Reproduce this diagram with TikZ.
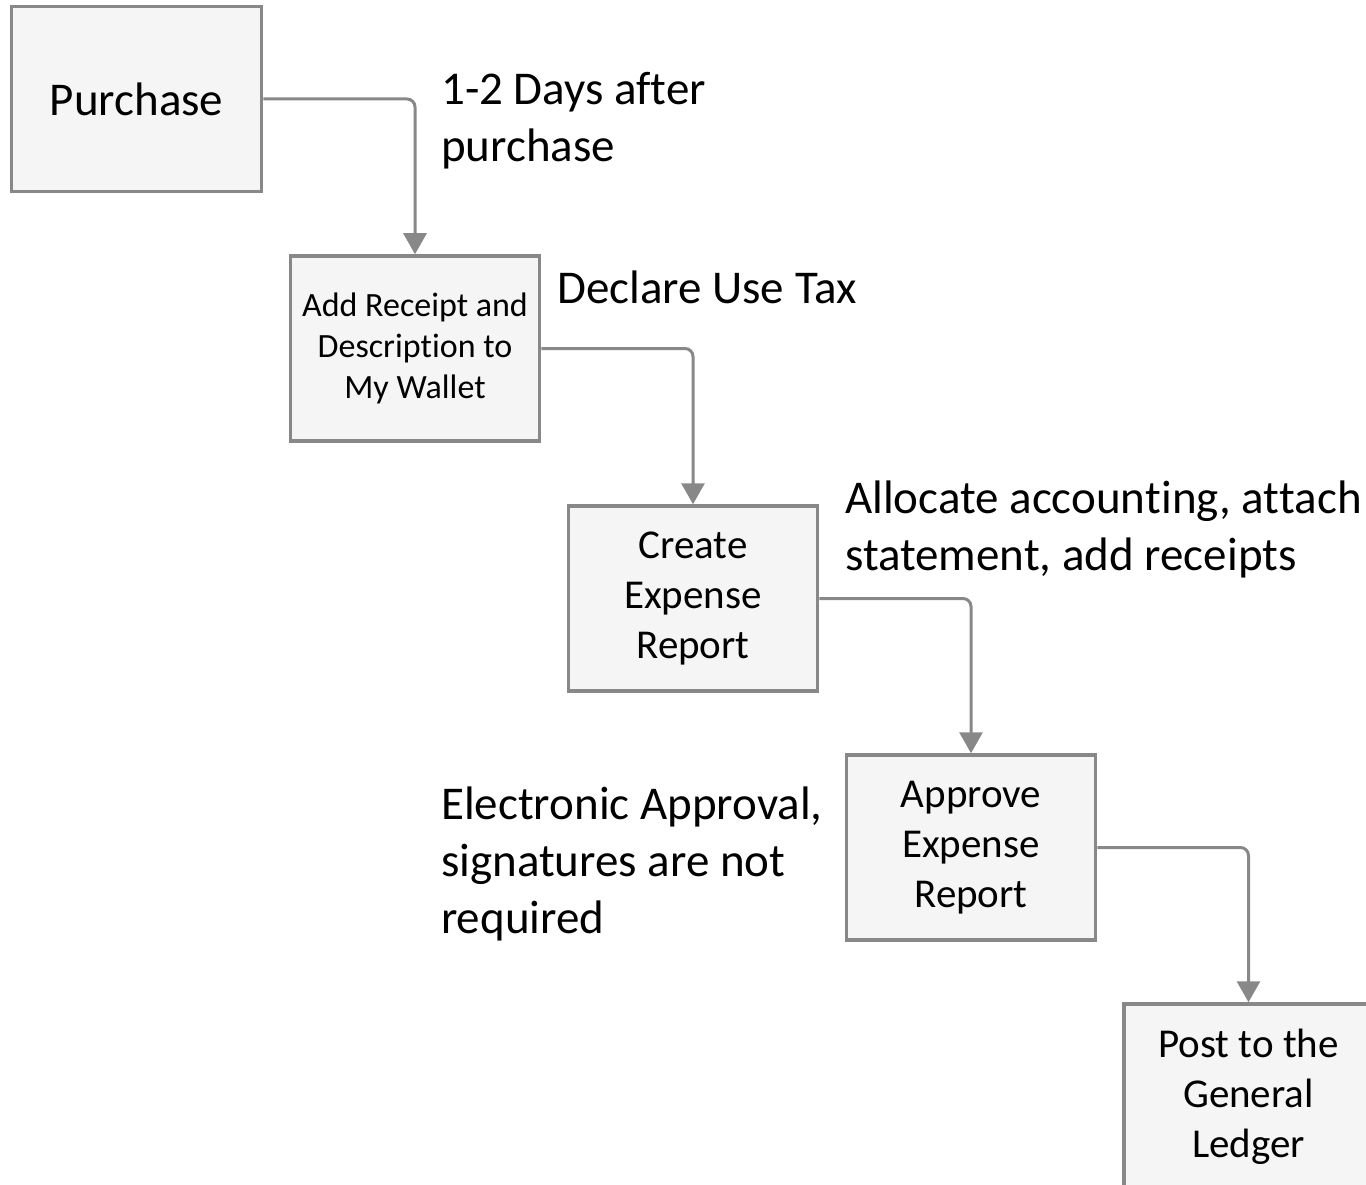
\documentclass[tikz,border=0pt]{standalone}
\usepackage{fontspec}
\setmainfont[Ligatures={NoCommon,NoRare,NoContextual,NoRequired}]{Carlito}
\usetikzlibrary{arrows.meta}
\definecolor{boxline}{HTML}{888888}
\definecolor{boxfill}{HTML}{F5F5F5}
\tikzset{
  stepbox/.style={draw=boxline, fill=boxfill, line width=3.5pt, minimum width=249pt, minimum height=185pt, inner sep=0pt, align=center, font=\fontsize{41}{50}\selectfont},
  conn/.style={draw=boxline, line width=3pt, rounded corners=8pt, -{Triangle[width=23pt,length=21pt]}},
  note/.style={anchor=base west, align=left, inner sep=0pt, font=\fontsize{47}{57}\selectfont}
}
\begin{document}
\begin{tikzpicture}[x=1pt,y=-1pt]
\useasboundingbox (0,0) rectangle (1366,1185);
\clip (0,0) rectangle (1366,1185);
\node[stepbox, minimum width=250pt, font=\fontsize{47}{57}\selectfont] (p) at (136.5,99) {Purchase};
\node[stepbox, font=\fontsize{34}{41}\selectfont] (a) at (415,348.5) {Add Receipt and\\Descrip\kern0pt tion to\\My Wallet};
\node[stepbox] (c) at (693,598.5) {Create\\Expense\\Report};
\node[stepbox] (v) at (971,847.5) {Approve\\Expense\\Report};
\node[stepbox] (g) at (1248.5,1096.5) {Post to the\\General\\Ledger};
\draw[conn] (p.east) -| (a.north);
\draw[conn] (a.east) -| (c.north);
\draw[conn] (c.east) -| (v.north);
\draw[conn] (v.east) -| (g.north);
\node[note] (l1) at (441,162) {1-2 Days af\kern0pt ter\\purchase};
\node[note] (l2) at (557,303) {Declare Use Tax};
\node[note] (l3) at (845,570) {Allocate accoun\kern0pt ting, at\kern0pt tach\\statement, add receipts};
\node[note] (l4) at (441,933) {Electronic Approval,\\signatures are not\\required};
\end{tikzpicture}
\end{document}
